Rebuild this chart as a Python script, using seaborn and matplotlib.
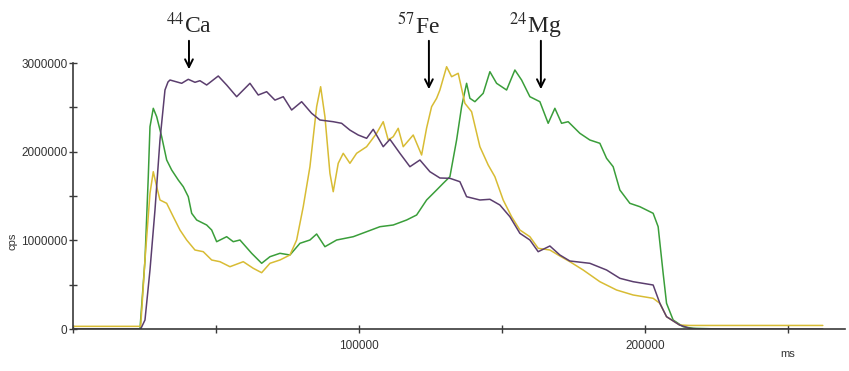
import pandas as pd
import matplotlib
matplotlib.use('Agg')
import matplotlib.pyplot as plt
import seaborn as sns

# time (ms) and counts per second
ca_ms = [0, 23670, 25175, 26923, 28671, 30420, 32168, 33217, 33916, 38007, 40315, 42657,
         44406, 46748, 50804, 53741, 57238, 61888, 64790, 67728, 70629, 73531, 76468,
         79965, 83462, 86364, 91014, 93951, 96853, 99755, 102692, 105000, 108497,
         110839, 114336, 117832, 121329, 124826, 128322, 131819, 135316, 137658,
         142308, 145805, 149301, 152798, 156294, 159791, 162693, 166783, 170280,
         173776, 180770, 186609, 191259, 195909, 202902, 205245, 207587, 212133,
         215629, 219126, 262238]
ca_cps = [0, 0, 101500, 665400, 1342100, 2131500, 2695400, 2785700, 2808200, 2771000,
          2816100, 2782300, 2800300, 2751800, 2853300, 2751800, 2619900, 2770900,
          2639100, 2676300, 2581500, 2619900, 2469900, 2563500, 2432600, 2357100,
          2337900, 2319900, 2243200, 2187900, 2150700, 2252200, 2056000, 2139400,
          1981500, 1830400, 1906000, 1774000, 1703000, 1699600, 1661200, 1492100,
          1454900, 1462800, 1398500, 1266500, 1079300, 1003700, 871800, 936100,
          834600, 766900, 740900, 665400, 571800, 533400, 496200, 289800, 138700,
          45100, 7900, 0, 0]

mg_ms = [0, 23427, 25175, 26329, 26923, 28077, 29266, 31014, 32762, 34511, 36818, 38567,
         40315, 41504, 43252, 46748, 48497, 50245, 53741, 56049, 58392, 62483, 65979,
         68881, 72378, 75874, 79371, 82867, 85210, 88112, 92203, 98007, 102692,
         107343, 111993, 116678, 120175, 123671, 127168, 129475, 131819, 134161,
         135910, 137658, 138812, 140561, 143463, 145805, 148148, 151644, 154545,
         156888, 159791, 163287, 166189, 168531, 170874, 173182, 177273, 180770,
         184266, 186609, 188916, 191259, 194755, 198252, 202902, 204650, 206399,
         207587, 209895, 213392, 216888, 226224]
mg_cps = [0, 0, 778200, 1717600, 2281500, 2489000, 2394300, 2168700, 1906000, 1793200,
          1680400, 1604800, 1492100, 1304900, 1229300, 1172900, 1116500, 984600,
          1040900, 984600, 1003700, 853700, 741000, 815400, 853700, 834600, 966500,
          1003700, 1071400, 928200, 1003700, 1040900, 1097300, 1153700, 1172900,
          1229300, 1285700, 1454900, 1567600, 1643200, 1717600, 2131500, 2507000,
          2771000, 2601800, 2563500, 2658200, 2901800, 2771000, 2695400, 2920900,
          2808200, 2619900, 2563500, 2319900, 2489000, 2319900, 2337900, 2207100,
          2131500, 2094300, 1925100, 1830400, 1567600, 1417600, 1379300, 1304900,
          1153700, 628200, 289800, 101500, 25900, 7900, 0]

fe_ms = [0, 23670, 25175, 26923, 28077, 29266, 30420, 32762, 35070, 37413, 39755, 42657,
         45559, 48497, 51399, 54895, 59546, 63042, 65979, 68881, 72378, 75874, 78217,
         80524, 82867, 85210, 86608, 88112, 89860, 91014, 92762, 94510, 96853, 99196,
         102692, 106189, 108497, 110245, 111993, 113741, 115490, 118986, 121923,
         123671, 125418, 127168, 128322, 130665, 132413, 134721, 137063, 139406,
         142308, 145210, 147552, 150454, 153392, 156294, 159791, 162693, 166783,
         170280, 173776, 178427, 184266, 190105, 195909, 202902, 205245, 207587,
         212133, 215629, 262238]
fe_cps = [30000, 30000, 778200, 1530400, 1774000, 1604800, 1454900, 1417600, 1266500,
          1116500, 1003700, 890900, 871800, 778200, 759000, 702600, 759000, 684600,
          635000, 741000, 778200, 834600, 1003700, 1379300, 1830400, 2507000, 2732600,
          2394300, 1756000, 1548500, 1868800, 1981500, 1868800, 1981500, 2056000,
          2207100, 2337900, 2131500, 2168700, 2263500, 2056000, 2187900, 1962400,
          2266900, 2507000, 2601800, 2695400, 2958200, 2845400, 2883800, 2545400,
          2450700, 2056000, 1849600, 1717600, 1454900, 1266500, 1116500, 1040900,
          910100, 890900, 823300, 759000, 665400, 533400, 439800, 383500, 346200,
          289800, 138700, 45100, 40000, 40000]

x_ticks = [0, 50000, 100000, 150000, 200000, 250000]
x_tick_labels = ['', '', '100000', '', '200000', '']
y_ticks = [0, 500000, 1000000, 1500000, 2000000, 2500000, 3000000]
y_tick_labels = ['0', '', '1000000', '', '2000000', '', '3000000']

# arrows: label, text x, arrow x, arrow tip y
labels = [r'$^{44}$Ca', r'$^{57}$Fe', r'$^{24}$Mg']
label_x = [40400, 120800, 161500]
arrow_x = [40560, 124475, 163636]
arrow_tip = [2898000, 2673000, 2673000]

df = pd.concat([
    pd.DataFrame({'ms': ca_ms, 'cps': ca_cps, 'el': 'Ca'}),
    pd.DataFrame({'ms': fe_ms, 'cps': fe_cps, 'el': 'Fe'}),
    pd.DataFrame({'ms': mg_ms, 'cps': mg_cps, 'el': 'Mg'}),
])

sns.set_style('white')
plt.rcParams['mathtext.fontset'] = 'stix'
small_font = ['Liberation Sans', 'DejaVu Sans']

fig = plt.figure(figsize=(8.49, 3.71), dpi=100)
ax = fig.add_axes([73 / 849, 42 / 371, 772 / 849, 266 / 371])

palette = {'Ca': '#5b3e6e', 'Fe': '#d8bc34', 'Mg': '#3a9e3a'}
sns.lineplot(data=df, x='ms', y='cps', hue='el', palette=palette, hue_order=['Mg', 'Fe', 'Ca'],
             sort=False, estimator=None, lw=1.1, legend=False, ax=ax)

ax.set_xlim(0, 270000)
ax.set_ylim(0, 3000000)
ax.set_xticks(x_ticks)
ax.set_xticklabels(x_tick_labels)
ax.set_yticks(y_ticks)
ax.set_yticklabels(y_tick_labels)
ax.set_xlabel('')
ax.set_ylabel('')
sns.despine(ax=ax)
for s in ['left', 'bottom']:
    ax.spines[s].set_color('#3a3a3a')
    ax.spines[s].set_linewidth(1.2)
ax.tick_params(bottom=True, left=True, direction='inout', length=6, width=1, color='#3a3a3a',
               labelcolor='#333333', labelsize=8.5, pad=1)
ax.tick_params(axis='x', pad=5)
for lab in ax.get_xticklabels() + ax.get_yticklabels():
    lab.set_family(small_font)

ax.text(-0.078, 0.33, 'cps', transform=ax.transAxes, rotation=90, ha='center', va='center',
        fontsize=8, color='#333333', family=small_font)
ax.text(250000, -0.075, 'ms', transform=ax.get_xaxis_transform(), ha='center', va='top',
        fontsize=8, color='#333333', family=small_font)

for lab, lx, axx, tip in zip(labels, label_x, arrow_x, arrow_tip):
    ax.annotate('', xy=(axx, tip), xytext=(axx, 3282000),
                arrowprops=dict(arrowstyle='->', lw=1.4, color='black', mutation_scale=14),
                annotation_clip=False)
    ax.text(lx, 3338000, lab, ha='center', va='baseline', fontsize=17,
            family='Liberation Serif', clip_on=False)

fig.savefig('out.png', dpi=100)
